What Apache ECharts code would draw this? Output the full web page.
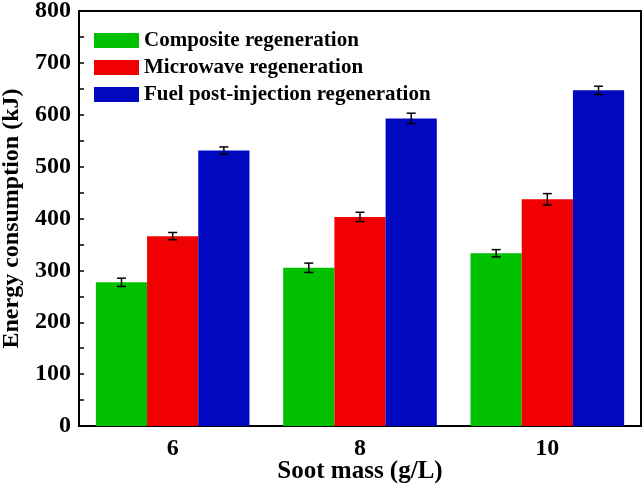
<!DOCTYPE html>
<html>
<head>
<meta charset="utf-8">
<script src="https://cdn.jsdelivr.net/npm/echarts@6/dist/echarts.min.js"></script>
<style>html,body{margin:0;padding:0;background:#fff}#c{width:644px;height:486px}</style>
</head>
<body>
<div id="c"></div>
<script>
var categories = ['6', '8', '10'];
var seriesNames = ['Composite regeneration', 'Microwave regeneration', 'Fuel post-injection regeneration'];
var composite = [277, 305, 333];
var microwave = [366, 403, 437];
var fuelPost = [531, 593, 647];
var compositeErr = [8, 9, 7];
var microwaveErr = [7, 9, 11];
var fuelPostErr = [7, 10, 8];
var colors = ['#00c000', '#f00000', '#0008c0'];

var values = [composite, microwave, fuelPost];
var errs = [compositeErr, microwaveErr, fuelPostErr];
var gapRatio = 0.18;
var font = '"Liberation Serif", "Times New Roman", serif';

var series = [];
values.forEach(function (v, i) {
  series.push({
    name: seriesNames[i], type: 'bar', data: v,
    barGap: '0%', barCategoryGap: (gapRatio * 100) + '%',
    itemStyle: { color: colors[i] }
  });
});
values.forEach(function (v, i) {
  var data = v.map(function (val, k) { return [k, val - errs[i][k], val + errs[i][k]]; });
  series.push({
    type: 'custom', name: seriesNames[i] + ' err', data: data, z: 10,
    silent: true,
    renderItem: function (params, api) {
      var band = api.size([1, 0])[0];
      var bw = band * (1 - gapRatio) / 3;
      var c = api.coord([api.value(0), 0]);
      var x = c[0] + (i - 1) * bw;
      var lo = api.coord([api.value(0), api.value(1)])[1];
      var hi = api.coord([api.value(0), api.value(2)])[1];
      var cap = 4.5;
      var st = { stroke: '#000', lineWidth: 1.5 };
      return { type: 'group', children: [
        { type: 'line', shape: { x1: x, y1: lo, x2: x, y2: hi }, style: st },
        { type: 'line', shape: { x1: x - cap, y1: lo, x2: x + cap, y2: lo }, style: st },
        { type: 'line', shape: { x1: x - cap, y1: hi, x2: x + cap, y2: hi }, style: st }
      ]};
    }
  });
});

var chart = echarts.init(document.getElementById('c'));
chart.setOption({
  animation: false,
  backgroundColor: '#fff',
  grid: { left: 79, right: 3, top: 11, bottom: 60, containLabel: false, outerBoundsMode: 'none', show: true, borderColor: '#000', borderWidth: 2, backgroundColor: 'transparent' },
  legend: {
    data: seriesNames, orient: 'vertical', left: 89, top: 25,
    itemWidth: 45, itemHeight: 15, itemGap: 6,
    icon: 'rect',
    textStyle: { fontFamily: font, fontWeight: 'bold', fontSize: 21, color: '#000' }
  },
  xAxis: {
    type: 'category', data: categories,
    name: 'Soot mass (g/L)', nameLocation: 'middle', nameGap: 33, nameMoveOverlap: false,
    nameTextStyle: { fontFamily: font, fontWeight: 'bold', fontSize: 25, color: '#000' },
    axisLine: { lineStyle: { color: '#000', width: 2 } },
    axisTick: { show: false },
    axisLabel: { fontFamily: font, fontWeight: 'bold', fontSize: 24, color: '#000', margin: 11 }
  },
  yAxis: {
    type: 'value', min: 0, max: 800, interval: 100,
    name: 'Energy consumption (kJ)', nameLocation: 'middle', nameGap: 55, nameMoveOverlap: false,
    nameTextStyle: { fontFamily: font, fontWeight: 'bold', fontSize: 24, color: '#000' },
    axisLine: { show: true, lineStyle: { color: '#000', width: 2 } },
    axisTick: { show: true, inside: true, length: 5, lineStyle: { color: '#000', width: 1.5 } },
    minorTick: { show: true, splitNumber: 2, length: 5, lineStyle: { color: '#000', width: 1.5 } },
    splitLine: { show: false },
    axisLabel: { fontFamily: font, fontWeight: 'bold', fontSize: 24, color: '#000', margin: 8 }
  },
  series: series
});
</script>
</body>
</html>
